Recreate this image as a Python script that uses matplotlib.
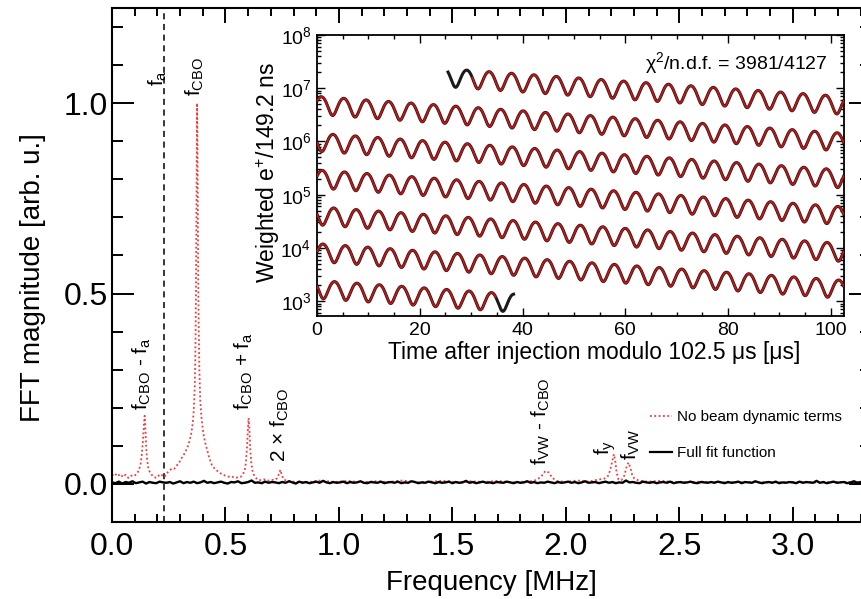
import numpy as np
import matplotlib
matplotlib.use('Agg')
import matplotlib.pyplot as plt
from matplotlib.ticker import MultipleLocator, LogLocator, NullFormatter, FormatStrFormatter
from matplotlib.lines import Line2D

plt.rcParams['font.family'] = ['Liberation Sans', 'DejaVu Sans']
plt.rcParams['mathtext.default'] = 'regular'

# ---- FFT of the fit residuals ----
# red dotted: fit without beam dynamics terms, frequency [MHz] / magnitude [arb. u.]
red_freq = [0.000, 0.012, 0.024, 0.036, 0.048, 0.060, 0.072, 0.084, 0.096, 0.108,
            0.118, 0.126, 0.132, 0.137, 0.141, 0.144, 0.147, 0.150, 0.154, 0.159,
            0.166, 0.175, 0.185, 0.195, 0.205, 0.215, 0.225, 0.235, 0.245, 0.255,
            0.265, 0.275, 0.285, 0.295, 0.305, 0.315, 0.325, 0.335, 0.343, 0.350,
            0.356, 0.361, 0.365, 0.368, 0.370, 0.372, 0.374, 0.375, 0.376, 0.378,
            0.380, 0.382, 0.385, 0.389, 0.395, 0.402, 0.410, 0.419, 0.428, 0.440,
            0.455, 0.470, 0.485, 0.498, 0.512, 0.526, 0.540, 0.554, 0.566, 0.576,
            0.584, 0.590, 0.595, 0.599, 0.602, 0.605, 0.609, 0.614, 0.620, 0.628,
            0.640, 0.655, 0.670, 0.685, 0.700, 0.715, 0.728, 0.736, 0.742, 0.748,
            0.756, 0.770, 0.800, 0.860, 0.920, 0.980, 1.040, 1.100, 1.160, 1.220,
            1.280, 1.340, 1.400, 1.460, 1.520, 1.580, 1.640, 1.700, 1.760, 1.820,
            1.860, 1.890, 1.910, 1.925, 1.940, 1.960, 2.000, 2.050, 2.100, 2.140,
            2.170, 2.185, 2.195, 2.205, 2.212, 2.218, 2.224, 2.232, 2.245, 2.258,
            2.268, 2.276, 2.284, 2.292, 2.302, 2.320, 2.360, 2.420, 2.500, 2.600,
            2.700, 2.800, 2.900, 3.000, 3.100, 3.200, 3.345]
red_mag = [0.022, 0.028, 0.020, 0.026, 0.018, 0.024, 0.016, 0.022, 0.020, 0.026,
           0.035, 0.052, 0.080, 0.120, 0.160, 0.179, 0.150, 0.105, 0.068, 0.045,
           0.032, 0.024, 0.018, 0.016, 0.022, 0.019, 0.026, 0.021, 0.030, 0.036,
           0.041, 0.040, 0.048, 0.055, 0.066, 0.075, 0.086, 0.100, 0.115, 0.135,
           0.160, 0.200, 0.260, 0.370, 0.500, 0.700, 0.930, 1.000, 0.940, 0.740,
           0.550, 0.420, 0.300, 0.220, 0.170, 0.135, 0.110, 0.090, 0.070, 0.050,
           0.038, 0.032, 0.025, 0.022, 0.019, 0.020, 0.016, 0.017, 0.018, 0.024,
           0.034, 0.055, 0.095, 0.145, 0.173, 0.150, 0.095, 0.055, 0.032, 0.020,
           0.012, 0.010, 0.012, 0.008, 0.011, 0.010, 0.015, 0.026, 0.037, 0.024,
           0.012, 0.008, 0.006, 0.004, 0.009, 0.005, 0.008, 0.004, 0.007, 0.005,
           0.009, 0.004, 0.006, 0.008, 0.004, 0.007, 0.005, 0.008, 0.004, 0.006,
           0.008, 0.018, 0.034, 0.030, 0.016, 0.008, 0.005, 0.009, 0.006, 0.011,
           0.014, 0.020, 0.035, 0.060, 0.078, 0.060, 0.030, 0.012, 0.010, 0.022,
           0.045, 0.056, 0.044, 0.025, 0.014, 0.009, 0.006, 0.008, 0.004, 0.006,
           0.004, 0.005, 0.004, 0.005, 0.004, 0.005, 0.004]

# black solid: full fit function, sampled every 0.015 MHz, magnitude in 1e-3
black_step = 0.015
black_mag = [4, 2, 6, 1, 5, 3, 7, 2, 4, 6, 1, 5, 3, 2, 6, 4,
             3, 5, 1, 4, 7, 2, 5, 3, 6, 2, 4, 8, 3, 5, 2, 4,
             6, 3, 1, 5, 4, 7, 2, 3, 5, 9, 3, 4, 2, 6, 3, 5,
             4, 2, 5, 3, 7, 4, 1, 6, 3, 5, 2, 4, 6, 3, 8, 4,
             2, 5, 3, 4, 6, 2, 5, 3, 4, 7, 3, 2, 5, 4, 3, 6,
             2, 4, 5, 3, 6, 2, 4, 3, 7, 5, 2, 4, 3, 6, 4, 2,
             5, 3, 4, 6, 2, 5, 3, 4, 8, 3, 5, 2, 4, 6, 3, 4,
             2, 5, 4, 3, 6, 4, 2, 5, 3, 4, 7, 3, 5, 2, 4, 3,
             6, 4, 2, 5, 3, 4, 6, 3, 5, 2, 4, 7, 3, 4, 5, 2,
             4, 6, 3, 5, 2, 4, 3, 9, 4, 5, 3, 2, 6, 4, 3, 5,
             2, 4, 5, 3, 6, 2, 4, 5, 3, 4, 6, 3, 2, 5, 4, 3,
             5, 3, 6, 4, 2, 5, 3, 4, 6, 2, 5, 4, 3, 7, 4, 2,
             4, 5, 3, 6, 2, 4, 3, 5, 4, 2, 6, 3, 5, 4, 3, 8,
             3, 5, 2, 4, 6, 3, 4, 5, 2, 4, 7, 3, 5, 4, 2, 6]

f_a = 0.229  # MHz, dashed line

peak_text = ['$f_a$', '$f_{CBO}$', '$f_{CBO}$ - $f_a$', '$f_{CBO}$ + $f_a$',
             '2 × $f_{CBO}$', '$f_{VW}$ - $f_{CBO}$', '$f_y$', '$f_{VW}$']
peak_text_x = [0.203, 0.366, 0.132, 0.581, 0.740, 1.890, 2.176, 2.288]
peak_text_y = [1.046, 1.019, 0.194, 0.194, 0.057, 0.049, 0.076, 0.062]

# ---- wiggle inset ----
wrap = 102.5           # us
wig_period = 4.365     # us, 23.5 cycles per row
wig_tau = 64.4         # us, rows ~0.69 decades apart
wig_asym = 0.37
wig_n0 = 2.51e7
wig_peak0 = 29.15      # first peak in the top row
data_range = (25.5, 653.3)
fit_range = (30.2, 649.8)

W, H = 861, 599
fig = plt.figure(figsize=(W / 100, H / 100), dpi=100)

# main axes (right spine lies just outside the picture)
ax = fig.add_axes([112 / W, 1 - 522 / H, 759 / W, 514 / H])
ax.plot(red_freq, red_mag, color='#f03a3a', lw=1.3, ls=(0, (1, 1.4)), zorder=2)
bf = np.arange(len(black_mag)) * black_step
ax.plot(bf, np.array(black_mag) * 1e-3, color='k', lw=1.7, zorder=3)
ax.axvline(f_a, color='k', lw=1.1, ls=(0, (4, 3)), zorder=1)

for s, x, y in zip(peak_text, peak_text_x, peak_text_y):
    ax.text(x, y, s, rotation=90, ha='center', va='bottom', fontsize=15)

ax.set_xlim(0, 3.345)
ax.set_ylim(-0.1, 1.25)
ax.xaxis.set_major_locator(MultipleLocator(0.5))
ax.xaxis.set_minor_locator(MultipleLocator(0.1))
ax.yaxis.set_major_locator(MultipleLocator(0.5))
ax.yaxis.set_minor_locator(MultipleLocator(0.1))
ax.xaxis.set_major_formatter(FormatStrFormatter('%.1f'))
ax.yaxis.set_major_formatter(FormatStrFormatter('%.1f'))
ax.tick_params(which='both', direction='in', top=True, right=True, width=1.4, labelsize=23)
ax.tick_params(axis='x', which='major', length=10.8, pad=7)
ax.tick_params(axis='x', which='minor', length=5.8)
ax.tick_params(axis='y', which='major', length=15.8, pad=3)
ax.tick_params(axis='y', which='minor', length=7.9)
for sp in ax.spines.values():
    sp.set_linewidth(1.5)

fig.text(33 / W, 1 - 278 / H, 'FFT magnitude [arb. u.]', rotation=90,
         ha='center', va='center', fontsize=20)
fig.text(491 / W, 1 - 583 / H, 'Frequency [MHz]', ha='center', va='center', fontsize=20)

handles = [Line2D([], [], color='#f03a3a', lw=1.3, ls=(0, (1, 1.4))),
           Line2D([], [], color='k', lw=1.6)]
ax.legend(handles, ['No beam dynamic terms', 'Full fit function'],
          loc='center left', bbox_to_anchor=((650 - 112) / 759, (522 - 435) / 514),
          frameon=False, fontsize=11, borderpad=0, borderaxespad=0,
          handlelength=1.45, handletextpad=0.35, labelspacing=1.45)

# inset
axi = fig.add_axes([317 / W, 1 - 316 / H, 526.6 / W, 281 / H], zorder=5)
t_data = np.arange(data_range[0], data_range[1], 0.04)
n_data = wig_n0 * np.exp(-t_data / wig_tau) * (
    1 + wig_asym * np.cos(2 * np.pi * (t_data - wig_peak0) / wig_period))
in_fit = (t_data >= fit_range[0]) & (t_data <= fit_range[1])
n_rows = int(data_range[1] // wrap) + 1
for r in range(n_rows):
    row = (t_data >= r * wrap) & (t_data < (r + 1) * wrap)
    axi.plot(t_data[row] - r * wrap, n_data[row], color='#1a1a1a', lw=2.2, zorder=2)
    rf = row & in_fit
    if rf.any():
        axi.plot(t_data[rf] - r * wrap, n_data[rf], color='#c41414', lw=1.3, zorder=3)

axi.set_yscale('log')
axi.set_xlim(0, wrap)
axi.set_ylim(10 ** 2.72, 1e8)
axi.xaxis.set_major_locator(MultipleLocator(20))
axi.xaxis.set_minor_locator(MultipleLocator(5))
axi.yaxis.set_major_locator(LogLocator(base=10, numticks=10))
axi.yaxis.set_minor_locator(LogLocator(base=10, subs=np.arange(2, 10), numticks=20))
axi.yaxis.set_minor_formatter(NullFormatter())
axi.tick_params(which='both', direction='in', top=True, right=True, width=1.0, labelsize=14)
axi.tick_params(which='major', length=6, pad=4)
axi.tick_params(which='minor', length=3)
for sp in axi.spines.values():
    sp.set_linewidth(1.3)
axi.text(0.970, 0.900, 'χ$^2$/n.d.f. = 3981/4127', transform=axi.transAxes,
         ha='right', va='center', fontsize=14)
fig.text(268 / W, 1 - 172 / H, 'Weighted e$^{+}$/149.2 ns', rotation=90,
         ha='center', va='center', fontsize=16.5)
fig.text(594 / W, 1 - 352 / H, 'Time after injection modulo 102.5 μs [μs]',
         ha='center', va='center', fontsize=16.5)

fig.savefig('out.png', dpi=100)
